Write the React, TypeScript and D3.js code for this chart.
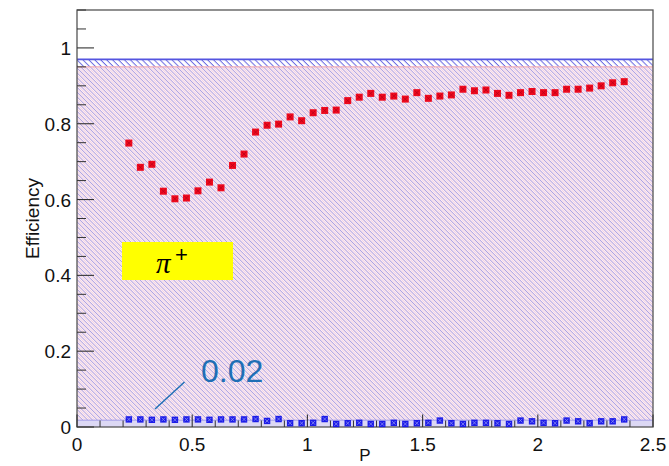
import React from 'react';
import * as d3 from 'd3';

// ---- data ----
const pBins = [
  0.225, 0.275, 0.325, 0.375, 0.425, 0.475, 0.525, 0.575, 0.625, 0.675,
  0.725, 0.775, 0.825, 0.875, 0.925, 0.975, 1.025, 1.075, 1.125, 1.175,
  1.225, 1.275, 1.325, 1.375, 1.425, 1.475, 1.525, 1.575, 1.625, 1.675,
  1.725, 1.775, 1.825, 1.875, 1.925, 1.975, 2.025, 2.075, 2.125, 2.175,
  2.225, 2.275, 2.325, 2.375,
];
const effPiPlus = [
  0.749, 0.685, 0.693, 0.622, 0.602, 0.604, 0.623, 0.646, 0.631, 0.69,
  0.72, 0.778, 0.796, 0.799, 0.818, 0.808, 0.829, 0.835, 0.836, 0.861,
  0.87, 0.88, 0.87, 0.873, 0.865, 0.882, 0.867, 0.873, 0.876, 0.891,
  0.887, 0.889, 0.88, 0.875, 0.882, 0.885, 0.882, 0.882, 0.891, 0.891,
  0.894, 0.9, 0.908, 0.911,
];
const misId = [
  0.02, 0.02, 0.019, 0.02, 0.019, 0.02, 0.02, 0.019, 0.02, 0.02,
  0.02, 0.021, 0.016, 0.021, 0.01, 0.01, 0.011, 0.021, 0.008, 0.01,
  0.011, 0.008, 0.008, 0.011, 0.008, 0.01, 0.011, 0.017, 0.01, 0.008,
  0.011, 0.011, 0.01, 0.008, 0.017, 0.015, 0.011, 0.01, 0.017, 0.015,
  0.01, 0.015, 0.015, 0.02,
];
const bandRedTop = 0.95;
const bandBlueTop = 0.97;
const bandLowTop = 0.018;
const yMajor = [0, 0.2, 0.4, 0.6, 0.8, 1];
const yTickLabels = ['0', '0.2', '0.4', '0.6', '0.8', '1'];
const xMajor = [0, 0.5, 1, 1.5, 2, 2.5];
const xTickLabels = ['0', '0.5', '1', '1.5', '2', '2.5'];
const annotationText = '0.02';

const W = 669;
const H = 466;
const L = 77, R = 653, T = 10, B = 427;

export default function App() {
  const x = d3.scaleLinear().domain([0, 2.5]).range([L, R]);
  const y = d3.scaleLinear().domain([0, 1.1]).range([B, T]);
  const yMinor = d3.range(0, 1.1001, 0.05).filter((v) => Math.abs(v / 0.2 - Math.round(v / 0.2)) > 1e-6);
  const xMinor = d3.range(0, 2.5001, 0.1).filter((v) => Math.abs(v / 0.5 - Math.round(v / 0.5)) > 1e-6);
  const P = 3.4;
  const ms = 7;
  const font = 'Liberation Sans, Arial, Helvetica, sans-serif';
  return (
    <svg width={W} height={H} style={{ position: 'absolute', left: 0, top: 0, background: '#fff' }}>
      <defs>
        <pattern id="mainHatch" patternUnits="userSpaceOnUse" width={P} height={P} patternTransform="rotate(45)">
          <rect x={0} y={0} width={P} height={P} fill="#fcf0f6" />
          <rect x={0} y={0} width={P} height={0.75} fill="#a595dc" />
          <rect x={0} y={P / 2} width={P} height={0.6} fill="#eec8dc" />
        </pattern>
        <pattern id="topHatch" patternUnits="userSpaceOnUse" width={4.2} height={4.2} patternTransform="rotate(45)">
          <rect x={0} y={0} width={4.2} height={4.2} fill="#ffffff" />
          <rect x={0} y={0} width={4.2} height={1} fill="#6a6ae2" />
        </pattern>
      </defs>
      {/* hatched bands */}
      <rect x={x(0)} y={y(bandBlueTop)} width={x(2.5) - x(0)} height={y(bandRedTop) - y(bandBlueTop)} fill="url(#topHatch)" />
      <rect x={x(0)} y={y(bandRedTop)} width={x(2.5) - x(0)} height={y(0) - y(bandRedTop)} fill="url(#mainHatch)" />
      <rect x={x(0)} y={y(bandLowTop)} width={x(2.5) - x(0)} height={y(0) - y(bandLowTop)} fill="#dcd8f4" />
      <line x1={x(0)} x2={x(2.5)} y1={y(bandLowTop)} y2={y(bandLowTop)} stroke="#a29ee8" strokeWidth={1} />
      <line x1={x(0)} x2={x(2.5)} y1={y(bandBlueTop)} y2={y(bandBlueTop)} stroke="#5555e0" strokeWidth={1.8} />
      <line x1={x(0)} x2={x(2.5)} y1={y(bandRedTop)} y2={y(bandRedTop)} stroke="#f2a0aa" strokeWidth={1} />

      {/* frame */}
      <rect x={L} y={T} width={R - L} height={B - T} fill="none" stroke="#555" strokeWidth={1.3} />

      {/* y ticks */}
      {yMajor.map((v, i) => (
        <g key={'ym' + i}>
          <line x1={L} x2={L + 17} y1={y(v)} y2={y(v)} stroke="#333" strokeWidth={1.1} />
          <text x={71} y={y(v) + 7} textAnchor="end" fontSize={19} fontFamily={font} fill="#111">{yTickLabels[i]}</text>
        </g>
      ))}
      {yMinor.map((v, i) => (
        <line key={'yn' + i} x1={L} x2={L + 9} y1={y(v)} y2={y(v)} stroke="#333" strokeWidth={1} />
      ))}
      {/* x ticks */}
      {xMajor.map((v, i) => (
        <g key={'xm' + i}>
          <line x1={x(v)} x2={x(v)} y1={B} y2={B - 12.5} stroke="#333" strokeWidth={1.1} />
          <text x={x(v)} y={451} textAnchor="middle" fontSize={19} fontFamily={font} fill="#111">{xTickLabels[i]}</text>
        </g>
      ))}
      {xMinor.map((v, i) => (
        <line key={'xn' + i} x1={x(v)} x2={x(v)} y1={B} y2={B - 6.5} stroke="#333" strokeWidth={1} />
      ))}

      {/* axis titles */}
      <text x={(L + R) / 2} y={461} textAnchor="middle" fontSize={17} fontFamily={font} fill="#111">P</text>
      <text transform={`translate(39,${(T + B) / 2}) rotate(-90)`} textAnchor="middle" fontSize={19} fontFamily={font} fill="#111">Efficiency</text>

      {/* red markers */}
      {pBins.map((p, i) => (
        <g key={'r' + i}>
          <rect x={x(p) - ms / 2} y={y(effPiPlus[i]) - ms / 2} width={ms} height={ms} fill="#ee0a1e" />
          <path d={`M${x(p) - 2},${y(effPiPlus[i]) - 2}L${x(p) + 2},${y(effPiPlus[i]) + 2}M${x(p) + 2},${y(effPiPlus[i]) - 2}L${x(p) - 2},${y(effPiPlus[i]) + 2}`} stroke="#b80018" strokeWidth={0.8} />
        </g>
      ))}
      {/* blue markers */}
      {pBins.map((p, i) => (
        <g key={'b' + i}>
          <rect x={x(p) - 3.2} y={y(misId[i]) - 3.2} width={6.4} height={6.4} fill="#1c1ce8" />
          <path d={`M${x(p) - 1.8},${y(misId[i]) - 1.8}L${x(p) + 1.8},${y(misId[i]) + 1.8}M${x(p) + 1.8},${y(misId[i]) - 1.8}L${x(p) - 1.8},${y(misId[i]) + 1.8}`} stroke="#8c8cf2" strokeWidth={0.8} />
        </g>
      ))}

      {/* annotation */}
      <line x1={155} y1={409} x2={184.5} y2={382} stroke="#1f6fb5" strokeWidth={1.5} />
      <text x={201} y={382} fontSize={32} fontFamily={font} fill="#1f6fb5">{annotationText}</text>

      {/* pi+ label */}
      <rect x={122} y={242} width={111} height={38} fill="#ffff00" />
      <text x={156} y={273} fontSize={29} fontFamily="Liberation Serif, DejaVu Serif, serif" fontStyle="italic" fill="#000">π</text>
      <text x={175} y={262} fontSize={22} fontFamily={font} fill="#000">+</text>
    </svg>
  );
}
